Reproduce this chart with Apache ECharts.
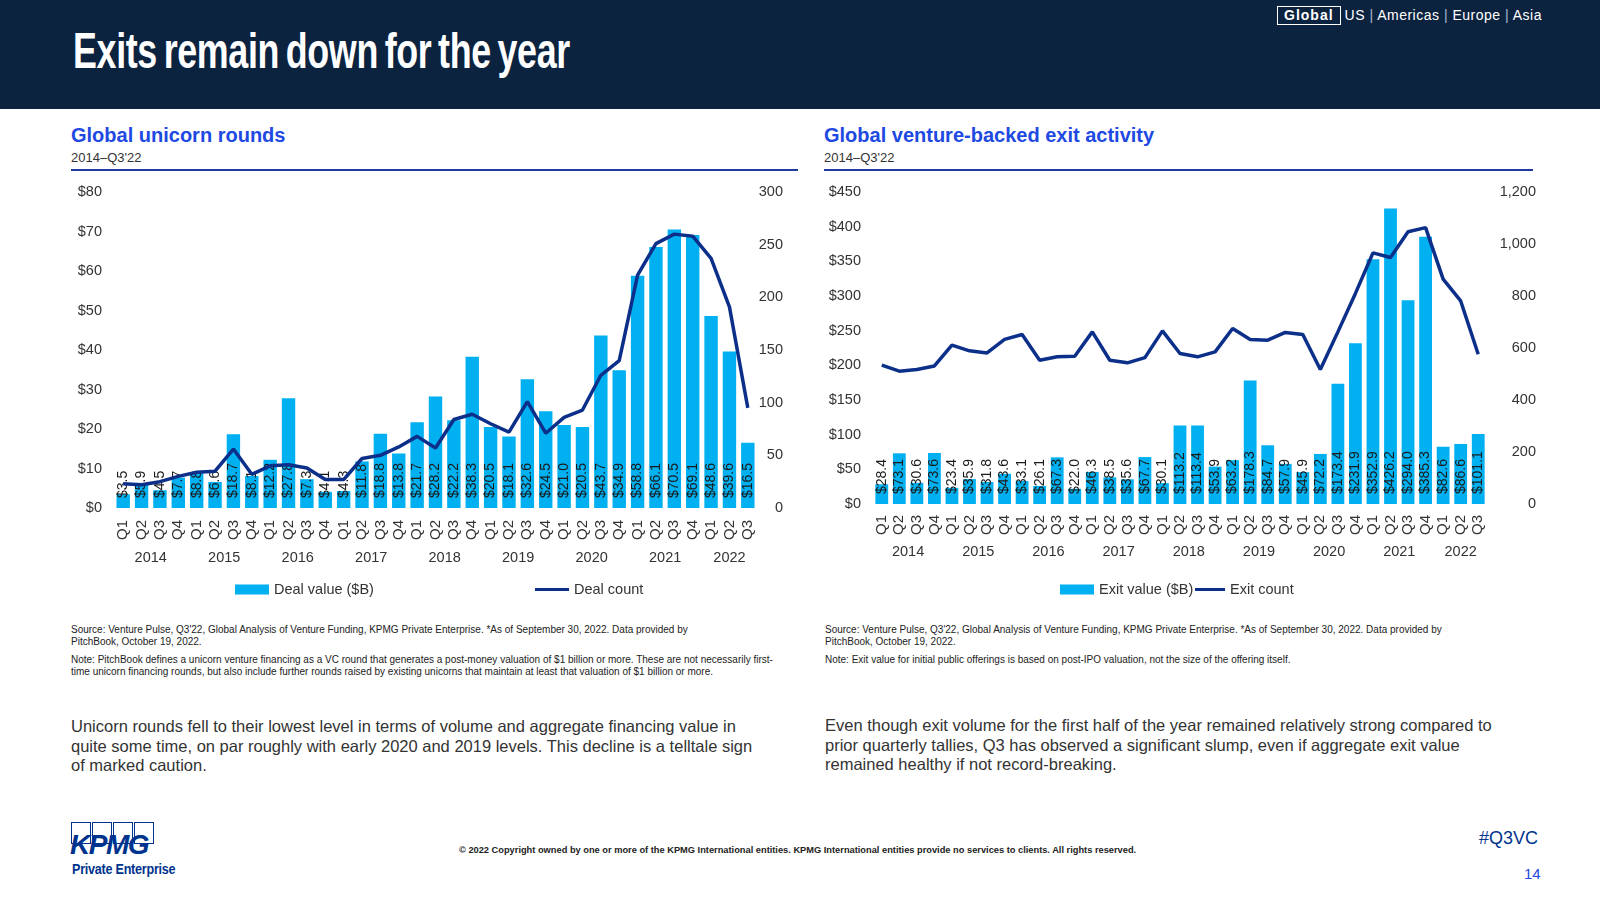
<!DOCTYPE html>
<html><head><meta charset="utf-8">
<script src="https://cdn.jsdelivr.net/npm/echarts@6/dist/echarts.min.js"></script>
<style>
body{margin:0;width:1600px;height:900px;position:relative;background:#fff;font-family:'Liberation Sans',Arial,sans-serif;overflow:hidden;color:#333}
.abs{position:absolute;white-space:nowrap}
#header{position:absolute;left:0;top:0;width:1600px;height:109px;background:#0c2340}
#title{left:73px;top:26px;font-size:50px;line-height:50px;font-weight:bold;color:#fff;transform:scaleX(0.717);transform-origin:0 0;letter-spacing:-0.5px;word-spacing:-4px}
#nav{left:1277px;top:5px;font-size:14px;line-height:20px;color:#fff;letter-spacing:0.5px}
#nav .box{display:inline-block;border:1.5px solid #fff;padding:0 6px;font-weight:bold;line-height:17px;margin-right:4px;letter-spacing:1px}
#nav .sep{color:#a9b6c8}
.sub{font-size:20px;font-weight:bold;color:#1e49e2;line-height:22px}
.date{font-size:13px;line-height:16px;color:#333}
.rule{position:absolute;height:2px;background:#1f3a9c}
.note{font-size:10px;line-height:12px;color:#222}
.body{font-size:16.5px;line-height:19.5px;color:#333}
.chart{position:absolute;top:170px;width:800px;height:440px}
</style></head><body>
<div id="header"></div>
<div class="abs" id="title">Exits remain down for the year</div>
<div class="abs" id="nav"><span class="box">Global</span>US <span class="sep">|</span> Americas <span class="sep">|</span> Europe <span class="sep">|</span> Asia</div>

<div class="abs sub" style="left:71px;top:124px">Global unicorn rounds</div>
<div class="abs date" style="left:71px;top:150px">2014–Q3'22</div>
<div class="rule" style="left:71px;top:169px;width:727px"></div>
<div class="abs sub" style="left:824px;top:124px">Global venture-backed exit activity</div>
<div class="abs date" style="left:824px;top:150px">2014–Q3'22</div>
<div class="rule" style="left:824px;top:169px;width:709px"></div>

<div class="chart" id="c1" style="left:0"></div>
<div class="chart" id="c2" style="left:800px"></div>

<div class="abs note" style="left:71px;top:624px">Source: Venture Pulse, Q3'22, Global Analysis of Venture Funding, KPMG Private Enterprise. *As of September 30, 2022. Data provided by<br>PitchBook, October 19, 2022.</div>
<div class="abs note" style="left:71px;top:654px">Note: PitchBook defines a unicorn venture financing as a VC round that generates a post-money valuation of $1 billion or more. These are not necessarily first-<br>time unicorn financing rounds, but also include further rounds raised by existing unicorns that maintain at least that valuation of $1 billion or more.</div>
<div class="abs note" style="left:825px;top:624px">Source: Venture Pulse, Q3'22, Global Analysis of Venture Funding, KPMG Private Enterprise. *As of September 30, 2022. Data provided by<br>PitchBook, October 19, 2022.</div>
<div class="abs note" style="left:825px;top:654px">Note: Exit value for initial public offerings is based on post-IPO valuation, not the size of the offering itself.</div>

<div class="abs body" style="left:71px;top:717px">Unicorn rounds fell to their lowest level in terms of volume and aggregate financing value in<br>quite some time, on par roughly with early 2020 and 2019 levels. This decline is a telltale sign<br>of marked caution.</div>
<div class="abs body" style="left:825px;top:716px">Even though exit volume for the first half of the year remained relatively strong compared to<br>prior quarterly tallies, Q3 has observed a significant slump, even if aggregate exit value<br>remained healthy if not record-breaking.</div>

<div class="abs" style="left:71px;top:822px;width:84px;height:22px">
  <div style="position:absolute;left:0;top:0;width:18px;height:20px;border:1.5px solid #00338d"></div>
  <div style="position:absolute;left:21px;top:0;width:18px;height:20px;border:1.5px solid #00338d"></div>
  <div style="position:absolute;left:42px;top:0;width:18px;height:20px;border:1.5px solid #00338d"></div>
  <div style="position:absolute;left:63px;top:0;width:18px;height:20px;border:1.5px solid #00338d"></div>
</div>
<div class="abs" style="left:70px;top:831px;font-size:28px;line-height:28px;font-weight:bold;font-style:italic;color:#00338d;letter-spacing:-1.5px">KPMG</div>
<div class="abs" style="left:72px;top:861px;font-size:15px;line-height:16px;font-weight:bold;color:#00338d;transform:scaleX(0.84);transform-origin:0 0;letter-spacing:-0.3px">Private Enterprise</div>
<div class="abs" style="left:459px;top:845px;font-size:9px;line-height:11px;color:#222;font-weight:bold;transform:scaleX(1.03);transform-origin:0 0">© 2022 Copyright owned by one or more of the KPMG International entities. KPMG International entities provide no services to clients. All rights reserved.</div>
<div class="abs" style="left:1479px;top:828px;font-size:18px;line-height:20px;color:#00338d">#Q3VC</div>
<div class="abs" style="left:1524px;top:865px;font-size:15px;line-height:18px;color:#1e49e2">14</div>

<script>
// ---- data ----
const quarters = ['Q1','Q2','Q3','Q4','Q1','Q2','Q3','Q4','Q1','Q2','Q3','Q4','Q1','Q2','Q3','Q4',
  'Q1','Q2','Q3','Q4','Q1','Q2','Q3','Q4','Q1','Q2','Q3','Q4','Q1','Q2','Q3','Q4','Q1','Q2','Q3'];
const years = ['2014','2015','2016','2017','2018','2019','2020','2021','2022'];

const dealValue = [3.5,5.9,4.5,7.7,8.8,6.6,18.7,8.1,12.2,27.8,7.3,4.1,4.3,11.8,18.8,13.8,
  21.7,28.2,22.2,38.3,20.5,18.1,32.6,24.5,21.0,20.5,43.7,34.9,58.8,66.1,70.5,69.1,48.6,39.6,16.5];
const dealCount = [23,22,25,30,34,35,56,32,40,41,38,27,27,47,50,58,
  68,57,84,89,80,72,101,71,86,93,126,140,221,251,260,258,237,191,95];

const exitValue = [28.4,73.1,30.6,73.6,23.4,35.9,31.8,43.6,33.1,26.1,67.3,22.0,46.3,38.5,35.6,67.7,
  30.1,113.2,113.4,53.9,63.2,178.3,84.7,57.9,45.9,72.2,173.4,231.9,352.9,426.2,294.0,385.3,82.6,86.6,101.1];
const exitCount = [534,511,517,531,611,589,581,633,652,553,566,568,662,553,543,563,
  666,579,566,585,675,633,630,660,652,517,662,810,966,948,1047,1063,865,781,576];

// year label positions (midpoint of each year's quarters on the category scale)
const yearMid = [];
(function(){ let start = 0; let y = 0;
  for (let i = 1; i <= quarters.length; i++) {
    if (i === quarters.length || quarters[i] === 'Q1') { yearMid.push({v:(start + i - 1)/2, t:years[y]}); y++; start = i; }
  }})();
function yearAt(v){ const m = yearMid.find(d => Math.abs(d.v - v) < 1e-6); return m ? m.t : ''; }

const FONT = 'Liberation Sans, Arial, sans-serif';
function buildOption(o){
  return {
    animation:false,
    textStyle:{fontFamily:FONT},
    grid:{left:o.left, top:22, width:o.width, height:o.height},
    legend:[
      {left:o.leg1, top:407, itemWidth:34, itemHeight:10, icon:'rect', itemGap:0, data:[o.barName],
        textStyle:{fontSize:14.5, color:'#333', fontFamily:FONT}},
      {left:o.leg2, top:407, itemWidth:o.lw, itemHeight:3, icon:'rect', itemGap:0, data:[o.lineName],
        textStyle:{fontSize:14.5, color:'#333', fontFamily:FONT}}
    ],
    xAxis:[
      {type:'category', data:quarters, gridIndex:0, axisLine:{show:false}, axisTick:{show:false},
        axisLabel:{rotate:90, interval:0, fontSize:15, color:'#333', margin:o.qMargin}},
      {type:'value', gridIndex:0, min:-0.5, max:quarters.length-0.5, interval:0.5, position:'bottom',
        axisLine:{show:false}, axisTick:{show:false}, splitLine:{show:false},
        axisLabel:{margin:o.yrMargin, fontSize:14.5, color:'#333', formatter:v => yearAt(v), showMinLabel:true, showMaxLabel:true}}
    ],
    yAxis:[
      {type:'value', min:0, max:o.lmax, interval:o.lint, splitLine:{show:false}, axisLine:{show:false}, axisTick:{show:false},
        axisLabel:{fontSize:14.5, color:'#333', margin:12, formatter:v => '$' + v}},
      {type:'value', min:0, max:o.rmax, interval:o.rint, position:'right', splitLine:{show:false}, axisLine:{show:false}, axisTick:{show:false},
        axisLabel:{fontSize:14.5, color:'#333', align:'right', margin:o.rMargin, formatter:v => v.toLocaleString('en-US')}}
    ],
    series:[
      {type:'bar', name:o.barName, data:o.bars, xAxisIndex:0, yAxisIndex:0, barCategoryGap:'27%',
        itemStyle:{color:'#00b0f0'},
        label:{show:true, position:'insideBottom', rotate:90, align:'left', verticalAlign:'middle', distance:10,
          fontSize:14, color:'#1a1a1a', formatter:p => '$' + p.value.toFixed(1)}},
      {type:'line', name:o.lineName, data:o.line, xAxisIndex:0, yAxisIndex:1, z:6, symbol:'none',
        lineStyle:{color:'#0c2f8a', width:3.5}, itemStyle:{color:'#0c2f8a'}}
    ]
  };
}

const c1 = echarts.init(document.getElementById('c1'));
c1.setOption(buildOption({left:114, width:643, height:316, leg1:230, leg2:530, lw:34, qMargin:12, yrMargin:42,
  lmax:80, lint:10, rmax:300, rint:50, rMargin:26, barName:'Deal value ($B)', lineName:'Deal count',
  bars:dealValue, line:dealCount}));

const c2 = echarts.init(document.getElementById('c2'));
c2.setOption(buildOption({left:73, width:614, height:312, leg1:255, leg2:390, lw:30, qMargin:11, yrMargin:40,
  lmax:450, lint:50, rmax:1200, rint:200, rMargin:49, barName:'Exit value ($B)', lineName:'Exit count',
  bars:exitValue, line:exitCount}));
</script>
</body></html>
